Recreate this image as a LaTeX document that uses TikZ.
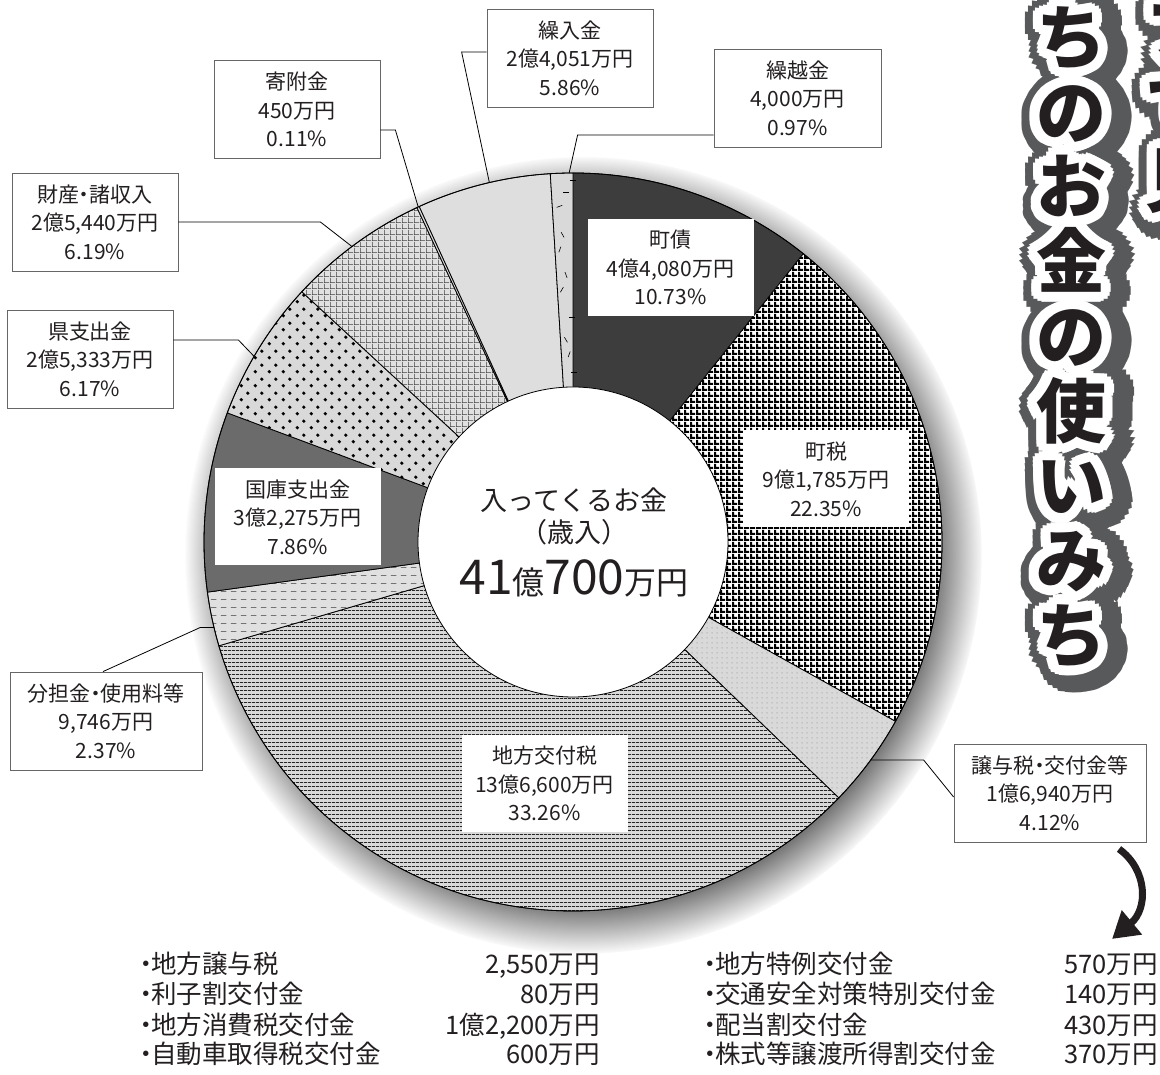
\documentclass[tikz,border=0pt]{standalone}
\usepackage{fontspec}
\setmainfont{Noto Sans CJK JP}
\usetikzlibrary{shadows}
\usetikzlibrary{positioning}
\usetikzlibrary{patterns}
\usetikzlibrary{arrows.meta}
\usetikzlibrary{calc}

\definecolor{inkblack}{RGB}{35,31,32}
\definecolor{titlegray}{RGB}{88,89,91}

\pgfdeclarepatternformonly{taxgrid}{\pgfpointorigin}{\pgfqpoint{6pt}{6pt}}{\pgfqpoint{6pt}{6pt}}{%
  \pgfpathrectangle{\pgfpointorigin}{\pgfqpoint{6pt}{2.6pt}}%
  \pgfpathrectangle{\pgfpointorigin}{\pgfqpoint{2.6pt}{6pt}}%
  \pgfusepath{fill}}
\pgfdeclarepatternformonly{hlines}{\pgfpointorigin}{\pgfqpoint{4pt}{4pt}}{\pgfqpoint{4pt}{4pt}}{%
  \pgfpathrectangle{\pgfpointorigin}{\pgfqpoint{4pt}{1.1pt}}\pgfusepath{fill}}
\pgfdeclarepatternformonly{dashrows}{\pgfpointorigin}{\pgfqpoint{10pt}{8pt}}{\pgfqpoint{10pt}{8pt}}{%
  \pgfpathrectangle{\pgfqpoint{1pt}{3.5pt}}{\pgfqpoint{6pt}{0.9pt}}\pgfusepath{fill}}
\pgfdeclarepatternformonly{fingrid}{\pgfpointorigin}{\pgfqpoint{6pt}{6pt}}{\pgfqpoint{6pt}{6pt}}{%
  \pgfpathrectangle{\pgfpointorigin}{\pgfqpoint{6pt}{0.8pt}}%
  \pgfpathrectangle{\pgfpointorigin}{\pgfqpoint{0.8pt}{6pt}}%
  \pgfusepath{fill}}
\pgfdeclarepatternformonly{bigdots}{\pgfpointorigin}{\pgfqpoint{14pt}{14pt}}{\pgfqpoint{14pt}{14pt}}{%
  \pgfpathcircle{\pgfqpoint{3.5pt}{3.5pt}}{1.9pt}%
  \pgfpathcircle{\pgfqpoint{10.5pt}{10.5pt}}{1.9pt}%
  \pgfusepath{fill}}
\pgfdeclarepatternformonly{finedots}{\pgfpointorigin}{\pgfqpoint{5pt}{5pt}}{\pgfqpoint{5pt}{5pt}}{%
  \pgfpathcircle{\pgfqpoint{2.5pt}{2.5pt}}{0.6pt}\pgfusepath{fill}}

\newcommand{\boxfont}{\fontsize{21}{28.5}\selectfont}
\newcommand{\listfont}{\fontsize{25.5}{30}\selectfont}
\newcommand{\ctrfont}{\fontsize{27}{32}\selectfont}
\newcommand{\bigdig}{\fontsize{48}{52}\selectfont}
\newcommand{\bigkan}{\fontsize{32}{36}\selectfont}
\newcommand{\titlefont}{\fontsize{70}{75}\selectfont\bfseries}
\newcommand{\dt}{\kern-.25em・\kern-.25em}
\newcommand{\titlelist}{ち/1071/1038, の/1071/963.3, お/1071/888.6, 金/1071/813.9, の/1071/739.2, 使/1071/664.5, い/1071/589.8, み/1071/515.1, ち/1071/440.4, フ/1180/1045, で/1180/970, 見/1180/895}

\tikzstyle{slice}=[draw=black, line width=0.8pt]
\tikzstyle{chosaifill}=[slice, fill=black!76]
\tikzstyle{chozeifill}=[slice, preaction={fill=white}, pattern=taxgrid, pattern color=black]
\tikzstyle{joyofill}=[slice, preaction={fill=black!15}, pattern=finedots, pattern color=black!50]
\tikzstyle{kofufill}=[slice, preaction={fill=black!15}, pattern=hlines, pattern color=black!85]
\tikzstyle{buntanfill}=[slice, preaction={fill=black!12}, pattern=dashrows, pattern color=black!55]
\tikzstyle{kokkofill}=[slice, fill=black!58]
\tikzstyle{kenfill}=[slice, preaction={fill=black!15}, pattern=bigdots, pattern color=black]
\tikzstyle{zaisanfill}=[slice, preaction={fill=black!12}, pattern=fingrid, pattern color=black!75]
\tikzstyle{kifufill}=[slice, fill=black!15]
\tikzstyle{kurirefill}=[slice, fill=black!13]
\tikzstyle{kurikoshifill}=[slice, fill=black!15]
\tikzstyle{outlabel}=[draw=black!60, line width=0.8pt, fill=white, text=inkblack, align=center, minimum height=98pt, inner sep=0pt, font=\boxfont]
\tikzstyle{inlabel}=[fill=white, text=inkblack, align=center, minimum width=166pt, minimum height=97pt, inner sep=0pt, font=\boxfont]
\tikzstyle{leader} = [draw, line width=0.8pt]
\tikzstyle{listitem}=[text=inkblack, inner sep=0pt, font=\listfont]
\tikzstyle{titlechar}=[inner sep=0pt, font=\titlefont, text height=61.6pt, text depth=8.4pt]

\begin{document}
\begin{tikzpicture}[x=1pt, y=1pt]

  \fill[white] (0,0) rectangle (1160,1075);
  \useasboundingbox (0,0) rectangle (1160,1075);

  \def\Ro{369};
  \def\Ri{155};
  \coordinate (C) at (573,533);

  \fill[white, circular drop shadow={shadow xshift=10pt, shadow yshift=-12pt, shadow scale=1.08, fill=black!75, opacity=.9}] (C) circle (\Ro);

  \foreach \a/\b/\sty in {90/51.37/chosaifill, 51.37/-29.09/chozeifill, -29.09/-43.92/joyofill, -43.92/-163.66/kofufill, -163.66/-172.19/buntanfill, -172.19/-200.48/kokkofill, -200.48/-222.70/kenfill, -222.70/-244.98/zaisanfill, -244.98/-245.38/kifufill, -245.38/-266.47/kurirefill, -266.47/-270/kurikoshifill}
    \draw[\sty] (C) -- ++(\a:\Ro) arc[start angle=\a, end angle=\b, radius=\Ro] -- cycle;

  \foreach \rr/\t/\rot in {362/90.5/0, 350/90.6/180, 335/92.8/20, 310/92.2/-60, 290/92.8/70, 270/91.7/-70, 250/92.9/60, 225/91.0/0, 205/92.4/-60, 185/91.5/70, 170/90.6/0}
    \draw[line width=0.6pt] ($(C)+(\t:\rr)$) -- ++(\rot:6);

  \draw[line width=0.8pt] (C) circle (\Ro);
  \draw[line width=0.8pt, fill=white] (C) circle (\Ri);

  \node[text=inkblack, font=\ctrfont] (inA) at (574,575) {入ってくるお金};
  \node[text=inkblack, font=\ctrfont] (inB) at (574,543) {（歳入）};
  \node[text=inkblack] (inC) at (574,497) {\bigdig 41\bigkan 億\bigdig 700\bigkan 万円};

  \foreach \x/\y/\name/\label in {670.5/807.5/chosai/{町債\\4億4,080万円\\10.73\%}, 826/596/chozei/{町税\\9億1,785万円\\22.35\%}, 544.5/291.5/kofu/{地方交付税\\13億6,600万円\\33.26\%}, 297.5/558/kokko/{国庫支出金\\3億2,275万円\\7.86\%}}
    \node[inlabel] (\name) at (\x,\y) {\label};

  \foreach \x/\y/\w/\name/\label in {570/1017/166/kurire/{繰入金\\2億4,051万円\\5.86\%}, 797.5/977/167/kurikoshi/{繰越金\\4,000万円\\0.97\%}, 297/965.5/166/kifu/{寄附金\\450万円\\0.11\%}, 95/853/166/zaisan/{財産\dt 諸収入\\2億5,440万円\\6.19\%}, 90/716/166/ken/{県支出金\\2億5,333万円\\6.17\%}, 106/354/192/buntan/{分担金\dt 使用料等\\9,746万円\\2.37\%}, 1050/282/192/joyo/{譲与税\dt 交付金等\\1億6,940万円\\4.12\%}}
    \node[outlabel, minimum width=\w pt] (\name) at (\x,\y) {\label};

  \foreach \name/\ang in {pKurire/103.1, pKurikoshi/90.6, pKifu/114.8, pZaisan/126.8, pKen/149.8, pBuntan/193.4, pJoyo/-36.2}
    \coordinate (\name) at ($(C)+(\ang:\Ro)$);

  \draw[leader] ([yshift=6pt]kurire.west) -- ++(-25,0) -- (pKurire);
  \draw[leader] ([yshift=-37pt]kurikoshi.west) -- ++(-136,0) -- (pKurikoshi);
  \draw[leader] ([yshift=-20.5pt]kifu.east) -- ++(15,0) -- (pKifu);
  \draw[leader] (zaisan.east) -- ++(142,0) -- (pZaisan);
  \draw[leader] ([yshift=19pt]ken.east) -- ++(65,0) -- (pKen);
  \draw[leader] ([xshift=-3pt]buntan.north) -- ++(97,44) -- (pBuntan);
  \draw[leader] ([yshift=-4pt]joyo.west) -- ++(-30,37) -- (pJoyo);

  \coordinate (arrS) at (1119,226);
  \coordinate (arrE) at (1112,136);
  \draw[line width=7pt, inkblack, -{Triangle[length=26pt, width=30pt]}] (arrS) .. controls (1148,205) and (1148,166) .. (arrE);

  \foreach \y/\item/\amt [count=\i] in {101.3/地方譲与税/{2,550万円}, 71.3/利子割交付金/80万円, 40.3/地方消費税交付金/{1億2,200万円}, 11.3/自動車取得税交付金/600万円} {
    \node[listitem, anchor=base west] (itemL\i) at (133,\y) {・\kern-.3em\item};
    \node[listitem, anchor=base east] (amtL\i) at (600,\y) {\amt};
  }
  \foreach \y/\item/\amt [count=\i] in {101.3/地方特例交付金/570万円, 71.3/交通安全対策特別交付金/140万円, 40.3/配当割交付金/430万円, 11.3/株式等譲渡所得割交付金/370万円} {
    \node[listitem, anchor=base west] (itemR\i) at (697,\y) {・\kern-.3em\item};
    \node[listitem, anchor=base east] (amtR\i) at (1158,\y) {\amt};
  }

  % title: gray rim, white rim, then the letters
  \foreach \c/\x/\y [count=\i] in \titlelist
    \foreach \rad/\n in {8/10, 16/16, 24/24}
      \foreach \k in {1,...,\n}
        \node[titlechar, text=titlegray] (tg\i-\rad-\k) at ([shift={({360*\k/\n}:\rad)}] \x+6,\y-3) {\c};
  \foreach \c/\x/\y [count=\i] in \titlelist
    \foreach \rad/\n in {5/8, 10/16}
      \foreach \k in {1,...,\n}
        \node[titlechar, text=white] (tw\i-\rad-\k) at ([shift={({360*\k/\n}:\rad)}] \x,\y) {\c};
  \foreach \c/\x/\y [count=\i] in \titlelist
    \node[titlechar, text=inkblack] (tb\i) at (\x,\y) {\c};

\end{tikzpicture}
\end{document}
